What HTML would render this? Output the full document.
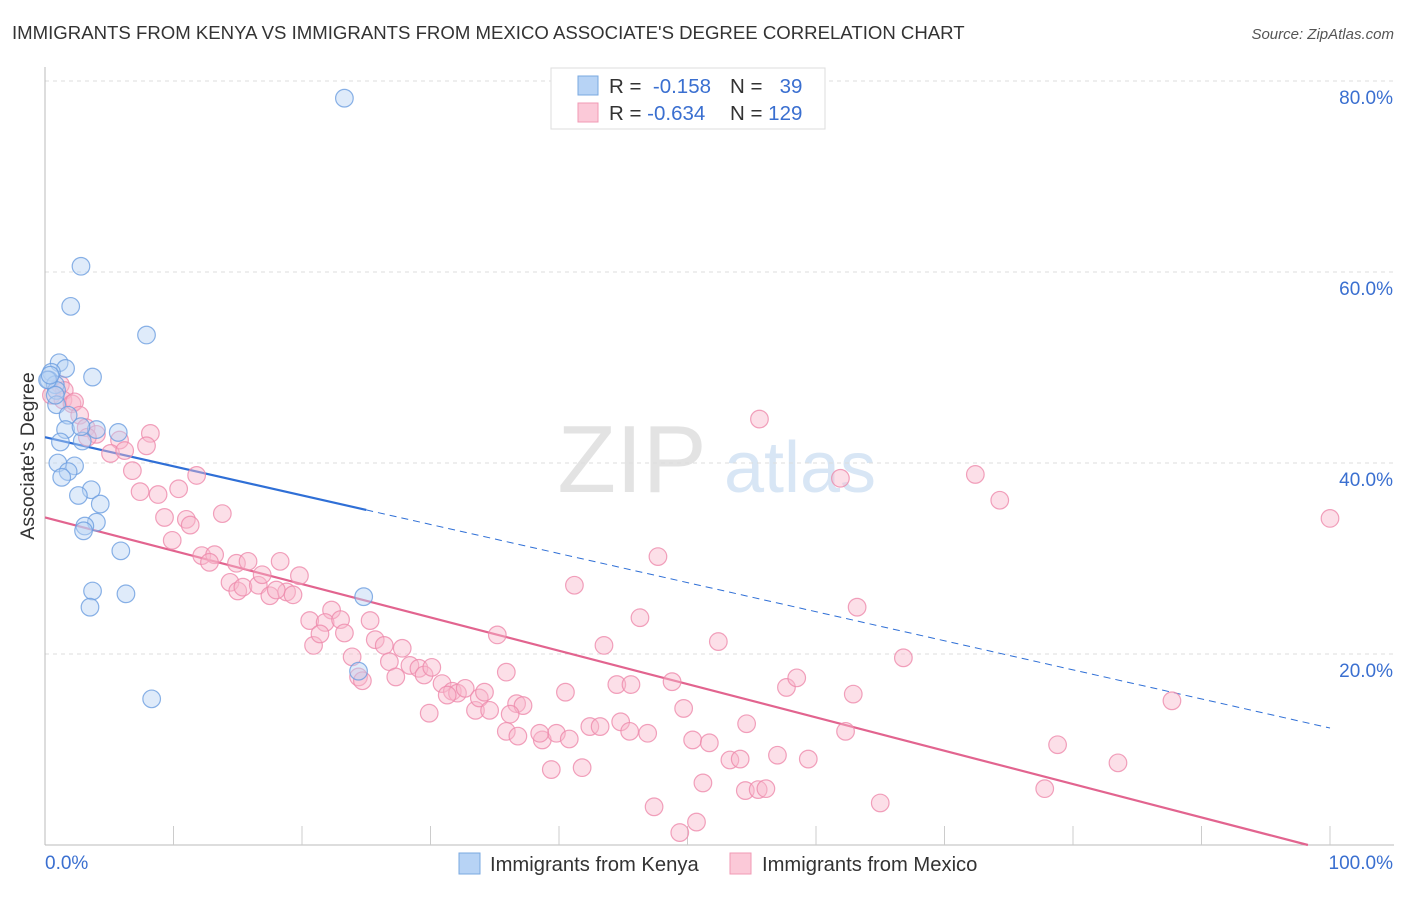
<!DOCTYPE html>
<html><head><meta charset="utf-8"><style>
body{margin:0;background:#fff;font-family:"Liberation Sans",sans-serif}
svg text{font-family:"Liberation Sans",sans-serif}
</style></head><body>
<svg width="1406" height="892" viewBox="0 0 1406 892" xmlns="http://www.w3.org/2000/svg">
<text x="12" y="39" font-size="18.6" fill="#333">IMMIGRANTS FROM KENYA VS IMMIGRANTS FROM MEXICO ASSOCIATE'S DEGREE CORRELATION CHART</text>
<text x="1394" y="39" font-size="15" fill="#555" font-style="italic" text-anchor="end">Source: ZipAtlas.com</text>
<g>
<text x="632" y="492" font-size="96" fill="#ddd" text-anchor="middle" font-family="Liberation Serif" opacity="0.8">ZIP</text>
<text x="800" y="492" font-size="72" fill="#cfe0f3" text-anchor="middle" opacity="0.8">atlas</text>
</g>
<g id="grid"></g>
<g id="axes"></g>
<g id="lines"></g>
<g id="pts"></g>
<text transform="translate(34,456) rotate(-90)" font-size="19.5" fill="#333" text-anchor="middle">Associate's Degree</text>
<g>
<rect x="551" y="68" width="274" height="61" fill="#fff" stroke="#ddd"/>
<rect x="578" y="76" width="20" height="19" fill="#b7d3f5" stroke="#7aa8e0"/>
<rect x="578" y="103" width="20" height="19" fill="#fbc9d8" stroke="#f09ab4"/>
<text x="609" y="93" font-size="20.5" fill="#333">R = <tspan fill="#3a6fd0">&#160;-0.158</tspan></text>
<text x="730" y="93" font-size="20.5" fill="#333">N = <tspan fill="#3a6fd0">&#160;&#160;39</tspan></text>
<text x="609" y="120" font-size="20.5" fill="#333">R = <tspan fill="#3a6fd0">-0.634</tspan></text>
<text x="730" y="120" font-size="20.5" fill="#333">N = <tspan fill="#3a6fd0">129</tspan></text>
</g>
<g>
<rect x="459" y="853" width="21" height="21" fill="#b7d3f5" stroke="#7aa8e0"/>
<text x="490" y="871" font-size="20.2" fill="#333">Immigrants from Kenya</text>
<rect x="730" y="853" width="21" height="21" fill="#fbc9d8" stroke="#f09ab4"/>
<text x="762" y="871" font-size="20.2" fill="#333">Immigrants from Mexico</text>
</g>
</svg>
<script>
const yTicks=[20,40,60,80];
const yTickLabels=["20.0%","40.0%","60.0%","80.0%"];
const xTicks=[10,20,30,40,50,60,70,80,90,100];
const kenyaX=[23.3,2.8,2.0,7.9,1.1,1.6,3.7,0.5,0.3,0.8,0.9,0.9,1.8,1.6,5.7,4.0,2.9,1.2,2.3,1.0,1.8,1.3,3.6,2.6,4.3,4.0,3.1,3.0,5.9,3.7,6.3,3.5,8.3,24.8,24.4,0.2,0.4,0.8,2.8];
const kenyaY=[78.2,60.6,56.4,53.4,50.5,49.9,49.0,49.5,48.7,48.2,47.6,46.1,45.0,43.5,43.2,43.5,42.3,42.2,39.7,40.0,39.1,38.5,37.2,36.6,35.7,33.8,33.4,32.9,30.8,26.6,26.3,24.9,15.3,26.0,18.2,48.7,49.2,47.1,43.8];
const mexicoX=[1.2,1.5,0.5,1.4,2.1,2.3,2.7,3.2,4.0,3.3,5.8,8.2,7.9,5.1,6.2,6.8,11.8,7.4,8.8,10.4,9.3,11.0,9.9,11.3,13.8,12.2,13.2,12.8,14.9,14.4,15.8,15.0,15.4,16.6,16.9,17.5,18.3,18.8,18.0,19.3,19.8,22.3,20.6,21.8,23.0,20.9,21.4,23.3,25.3,23.9,25.7,26.4,27.8,24.4,24.7,26.8,27.3,28.4,29.1,29.5,30.1,29.9,30.9,31.7,32.1,32.7,31.3,33.5,33.8,34.2,34.6,35.9,35.2,36.7,37.2,36.2,35.9,36.8,38.7,39.8,38.5,39.4,40.8,41.8,40.5,42.4,43.2,43.5,44.5,44.8,45.6,46.3,45.5,46.9,47.7,48.8,49.7,50.4,51.7,51.2,52.4,53.3,54.1,54.6,55.6,54.5,55.5,56.1,57.0,57.7,58.5,59.4,61.9,62.9,63.2,62.3,65.0,66.8,47.4,49.4,50.7,72.4,74.3,77.8,78.8,83.5,87.7,100.0,41.2];
const mexicoY=[48.2,47.6,47.1,46.6,46.2,46.4,45.0,43.7,43.0,42.7,42.4,43.1,41.8,41.0,41.3,39.2,38.7,37.0,36.7,37.3,34.3,34.1,31.9,33.5,34.7,30.3,30.4,29.6,29.5,27.5,29.7,26.6,27.0,27.2,28.3,26.1,29.7,26.5,26.7,26.2,28.2,24.6,23.5,23.3,23.6,20.9,22.1,22.2,23.5,19.7,21.5,20.9,20.6,17.6,17.2,19.2,17.6,18.8,18.5,17.8,18.6,13.8,16.9,16.1,15.9,16.4,15.7,14.1,15.4,16.0,14.1,18.1,22.0,14.8,14.6,13.7,11.9,11.4,11.0,11.7,11.7,7.9,11.1,8.1,16.0,12.4,12.4,20.9,16.8,12.9,16.8,23.8,11.9,11.7,30.2,17.1,14.3,11.0,10.7,6.5,21.3,8.9,9.0,12.7,44.6,5.7,5.8,5.9,9.4,16.5,17.5,9.0,38.4,15.8,24.9,11.9,4.4,19.6,4.0,1.3,2.4,38.8,36.1,5.9,10.5,8.6,15.1,34.2,27.2];
const kenyaTrend=[42.7,-0.3045];   // intercept, slope
const mexicoTrend=[34.3,-0.349];
const X0=45,X1=1330,Y0=845,YT=81;
const sx=v=>X0+(X1-X0)*v/100;
const sy=v=>Y0-(Y0-YT)*v/80;
const NS="http://www.w3.org/2000/svg";
function mk(tag,attrs,parent){const e=document.createElementNS(NS,tag);for(const k in attrs)e.setAttribute(k,attrs[k]);parent.appendChild(e);return e;}
const grid=document.getElementById('grid'),axes=document.getElementById('axes'),lines=document.getElementById('lines'),pts=document.getElementById('pts');
yTicks.forEach((t,i)=>{
 const l=mk('line',{x1:X0,x2:1394,y1:sy(t),y2:sy(t),stroke:'#ddd','stroke-dasharray':'4,4'},grid);
 
 
 const tx=mk('text',{x:1393,y:sy(t)+23,'font-size':19,fill:'#3a6fd0','text-anchor':'end'},axes);
 tx.textContent=yTickLabels[i];
 
 
});
const ax=mk('line',{x1:X0,x2:1394,y1:Y0,y2:Y0,stroke:'#bbb'},axes);


const ay=mk('line',{x1:X0,x2:X0,y1:67,y2:Y0,stroke:'#bbb'},axes);


xTicks.forEach(t=>{
 const l=mk('line',{x1:sx(t),x2:sx(t),y1:Y0-19,y2:Y0,stroke:'#ccc'},axes);
 
 
});
const xl0=mk('text',{x:X0,y:869,'font-size':19,fill:'#3a6fd0'},axes);xl0.textContent='0.0%';


const xl1=mk('text',{x:1393,y:869,'font-size':19,fill:'#3a6fd0','text-anchor':'end'},axes);xl1.textContent='100.0%';


function drawPts(xs,ys,fill,stroke,name){xs.forEach((x,i)=>{
 const c=mk('circle',{cx:sx(x),cy:sy(ys[i]),r:8.8,fill:fill,'fill-opacity':0.45,stroke:stroke,'stroke-width':1.2,'stroke-opacity':0.8},pts);
 
 
});}
drawPts(mexicoX,mexicoY,'#f9b9cc','#ee8aab','point-mexico');
drawPts(kenyaX,kenyaY,'#b7d3f5','#6b9ee0','point-kenya');
const ya=x=>kenyaTrend[0]+kenyaTrend[1]*x;
const k1=mk('line',{x1:sx(0),y1:sy(ya(0)),x2:sx(25),y2:sy(ya(25)),stroke:'#2f6fd6','stroke-width':2.2},lines);


const k2=mk('line',{x1:sx(25),y1:sy(ya(25)),x2:sx(100),y2:sy(ya(100)),stroke:'#2f6fd6','stroke-width':1,'stroke-dasharray':'7,5'},lines);


const yb=x=>mexicoTrend[0]+mexicoTrend[1]*x;
const xEnd=Math.min(100,-mexicoTrend[0]/mexicoTrend[1]);
const m1=mk('line',{x1:sx(0),y1:sy(yb(0)),x2:sx(xEnd),y2:sy(yb(xEnd)),stroke:'#e2648f','stroke-width':2.2},lines);


</script>
</body></html>
